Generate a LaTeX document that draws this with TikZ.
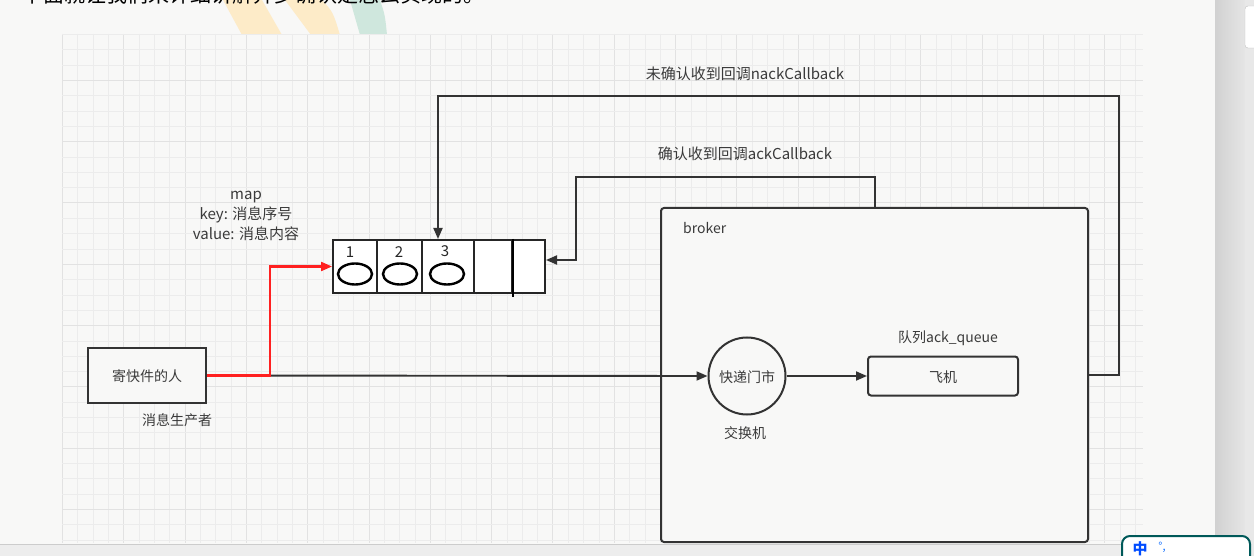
\documentclass[tikz,border=0pt]{standalone}
\usepackage{fontspec}
\setmainfont{Noto Sans CJK SC}
\usetikzlibrary{arrows.meta,shapes.geometric}
\definecolor{bgc}{HTML}{F8F8F7}
\definecolor{gridminor}{HTML}{ECECEC}
\definecolor{gridmajor}{HTML}{E2E2E2}
\definecolor{ink}{HTML}{333333}
\definecolor{txt}{HTML}{3A3A3A}
\definecolor{redline}{HTML}{FF2020}
\definecolor{orangeband}{HTML}{FDEBC8}
\definecolor{greenband}{HTML}{CFE7DD}
\tikzset{
  lbl/.style={text=txt, font=\fontsize{14}{16}\selectfont, inner sep=0pt},
  box/.style={draw=ink, line width=2pt, fill=bgc, inner sep=0pt},
  cell/.style={draw=black!85, line width=2pt, fill=white, minimum height=53pt, inner sep=0pt},
  egg/.style={ellipse, draw=black, line width=2.4pt, minimum width=34pt, minimum height=21pt, inner sep=0pt},
  conn/.style={draw=ink, line width=1.9pt},
  arr/.style={conn, -{Triangle[length=11pt,width=9pt]}},
}
\begin{document}
\begin{tikzpicture}[x=1pt,y=-1pt]
\useasboundingbox (0,0) rectangle (1254,556);
\fill[bgc] (0,0) rectangle (1254,556);
% decorative header bands and cut-off heading
\fill[orangeband] (223,0) -- (262,0) -- (282,35) -- (242,35) -- cycle;
\fill[orangeband] (285,0) -- (322,0) .. controls (333,12) .. (340,35) -- (311,35) -- cycle;
\fill[greenband] (350,0) -- (380,0) .. controls (385,15) .. (387,35) -- (360,35) -- cycle;
\node[anchor=base west, inner sep=0pt, text=black, font=\fontsize{21}{23}\selectfont] (head) at (22,3) {下面就让我们来详细讲解异步确认是怎么实现的。};
% grid
\foreach \k in {0,...,70} {
  \pgfmathtruncatemacro{\m}{mod(\k,4)}
  \ifnum\m=0 \draw[gridmajor, line width=1pt] ({62.4+15.33*\k},34) -- ({62.4+15.33*\k},543);
  \else \draw[gridminor, line width=0.8pt] ({62.4+15.33*\k},34) -- ({62.4+15.33*\k},543); \fi
}
\foreach \k in {0,...,33} {
  \pgfmathtruncatemacro{\m}{mod(\k+1,4)}
  \ifnum\m=0 \draw[gridmajor, line width=1pt] (62,{34.3+15.33*\k}) -- (1143,{34.3+15.33*\k});
  \else \draw[gridminor, line width=0.8pt] (62,{34.3+15.33*\k}) -- (1143,{34.3+15.33*\k}); \fi
}
% bottom band and right panel
\fill[black!7] (0,544) rectangle (1215,556);
\draw[black!20, line width=1pt] (0,544) -- (1215,544);
\shade[left color=black!18, right color=black!10] (1215,0) rectangle (1245,556);
\fill[black!9] (1245,0) rectangle (1254,556);
\draw[black!25, fill=white, rounded corners=3pt] (1245,6) rectangle (1258,48);

% broker
\node[box, rounded corners=3pt, minimum width=427pt, minimum height=334pt] (broker) at (874.5,375) {};
\node[lbl, anchor=west] (brokerlbl) at (683,228) {broker};

% queue cells
\node[cell, minimum width=44pt] (cell1) at (355,266.5) {};
\node[cell, minimum width=45pt] (cell2) at (399.5,266.5) {};
\node[cell, minimum width=52pt] (cell3) at (448,266.5) {};
\node[cell, minimum width=38pt] (cell4) at (493,266.5) {};
\node[cell, minimum width=33pt] (cell5) at (528.5,266.5) {};
\draw[black, line width=2.2pt] (cell4.north east) -- ([yshift=-3pt]cell4.south east);
\node[egg] (e1) at (355,274) {};
\node[egg] (e2) at (400,274) {};
\node[egg] (e3) at (447,274) {};
\node[lbl, text=black!85, font=\fontsize{15}{17}\selectfont] (n1) at (350,252) {1};
\node[lbl, text=black!85, font=\fontsize{15}{17}\selectfont] (n2) at (399,252) {2};
\node[lbl, text=black!85, font=\fontsize{15}{17}\selectfont] (n3) at (445,251) {3};
\node[lbl, align=center, font=\fontsize{15}{20}\selectfont] (maplbl) at (246,216) {map\\key: 消息序号\\value: 消息内容};

% producer
\node[box, minimum width=118pt, minimum height=55pt] (sender) at (147,375.5) {};
\node[lbl] (senderlbl) at (147,376) {寄快件的人};
\node[lbl] (producerlbl) at (177,420) {消息生产者};

% exchange and queue
\node[box, circle, minimum size=77pt] (shop) at (747,376) {};
\node[lbl] (shoplbl) at (747,377) {快递门市};
\node[lbl] (exlbl) at (745,433) {交换机};
\node[box, rounded corners=3pt, minimum width=150pt, minimum height=39pt] (plane) at (943,376) {};
\node[lbl] (planelbl) at (943,377) {飞机};
\node[lbl] (qlbl) at (948,338) {队列ack\_queue};

% connectors
\draw[arr] (sender.east) -- (shop.west);
\draw[redline, line width=2.1pt, -{Triangle[length=11pt,width=9pt]}] (sender.east) -- (270,375.5) |- (cell1.west);
\draw[arr] (shop.east) -- (plane.west);
\coordinate (nk) at (1119,96);
\draw[arr] (broker.east) -| (nk) -| ([xshift=-10pt]cell3.north);
\coordinate (ak) at (576,177);
\draw[arr] ([xshift=0.5pt]broker.north) |- (ak) |- ([yshift=6.5pt]cell5.east);
\node[lbl, font=\fontsize{15}{17}\selectfont] (nacklbl) at (745,74) {未确认收到回调nackCallback};
\node[lbl, font=\fontsize{15}{17}\selectfont] (acklbl) at (745,154) {确认收到回调ackCallback};

% input method indicator
\draw[draw=teal!70!black, fill=white, line width=2pt, rounded corners=8pt] (1122,536) rectangle (1250,566);
\node[text=blue!70!cyan, font=\fontsize{15}{17}\selectfont\bfseries, inner sep=0pt] (ime) at (1140,549) {中};
\node[text=blue!60!cyan, font=\fontsize{11}{13}\selectfont, inner sep=0pt] (ime2) at (1162,547) {°,};
\end{tikzpicture}
\end{document}
